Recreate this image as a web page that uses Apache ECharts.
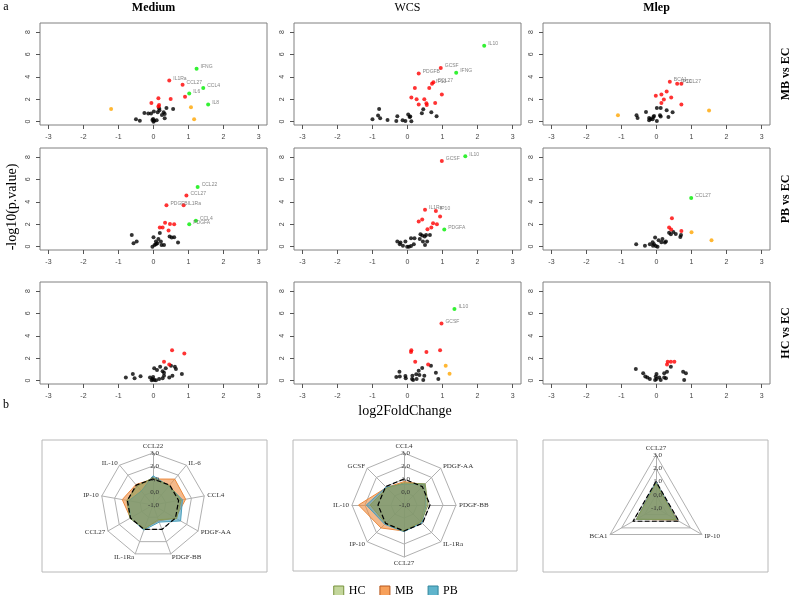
<!DOCTYPE html>
<html><head><meta charset="utf-8">
<script src="https://cdn.jsdelivr.net/npm/echarts@6/dist/echarts.min.js"></script>
<style>html,body{margin:0;padding:0;background:#fff}#c{width:791px;height:595px}</style>
</head><body><div id="c"></div>
<script>
// ---------- tick labels / categories ----------
const xTicks = [-3, -2, -1, 0, 1, 2, 3];
const yTicks = [0, 2, 4, 6, 8];
const columns = ['Medium', 'WCS', 'Mlep'];
const rows = ['MB vs EC', 'PB vs EC', 'HC vs EC'];

// ---------- volcano data: [log2FC, -log10(p), label] ----------
// Medium / MB vs EC
const medMB_green = [[1.23,4.72,'IFNG'],[1.42,3.01,'CCL4'],[1.02,2.51,'IL6'],[1.56,1.52,'IL8']];
const medMB_red = [[0.45,3.67,'IL1Ra'],[0.83,3.28,'CCL27'],[0.9,2.21],[0.14,2.09],[0.49,2.03],[-0.06,1.67],[0.16,1.49],[0.14,1.34]];
const medMB_orange = [[-1.21,1.13],[1.07,1.28],[1.16,0.21]];
const medMB_black = [[0.37,1.22],[0.56,1.13],[0.16,1.19],[0.01,0.9],[0.12,0.84],[-0.26,0.78],[-0.15,0.72],[-0.07,0.72],[0.29,0.84],[0.32,0.69],[0.24,0.6],[0.32,0.3],[-0.5,0.21],[-0.39,0.09],[-0.01,0.24],[0.02,0.09],[0.09,0.12],[0,0],[-0.03,0.15],[0.17,1.01]];
// WCS / MB vs EC
const wcsMB_green = [[2.19,6.78,'IL10'],[1.39,4.36,'IFNG']];
const wcsMB_red = [[0.95,4.78,'GCSF'],[0.32,4.3,'PDGFB'],[0.74,3.52,'CCL27'],[0.7,3.37,'IP10'],[0.21,2.99],[0.62,2.99],[0.98,2.42],[0.11,2.15],[0.26,2.0],[0.48,2.0],[0.54,1.64],[0.55,1.49],[0.32,1.52],[0.79,1.67]];
const wcsMB_orange = [];
const wcsMB_black = [[-0.81,1.13],[-0.84,0.54],[-0.78,0.3],[-1.0,0.21],[-0.57,0.15],[-0.29,0.48],[-0.32,0.06],[-0.14,0.12],[-0.06,0.06],[0.02,0.63],[0.08,0.45],[0.11,0.03],[0.41,0.75],[0.45,1.1],[0.68,0.84],[0.83,0.48],[0.06,0.42]];
// Mlep / MB vs EC
const mlepMB_green = [];
const mlepMB_red = [[0.38,3.55,'BCA1'],[0.59,3.37,'IP10'],[0.71,3.37,'CCL27'],[0.29,2.69],[-0.02,2.3],[0.14,2.42],[0.42,2.15],[0.21,1.97],[0.14,1.67],[0.71,1.52]];
const mlepMB_orange = [[-1.1,0.57],[1.5,0.99]];
const mlepMB_black = [[0.01,1.22],[0.12,1.22],[-0.3,0.87],[0.29,1.01],[0.46,0.84],[-0.57,0.57],[-0.54,0.33],[-0.21,0.33],[-0.17,0.24],[-0.21,0.12],[-0.09,0.42],[-0.07,0.51],[0.1,0.57],[0.12,0.45],[0.01,0.06],[0.34,0.42],[-0.11,0.21]];
// Medium / PB vs EC
const medPB_green = [[1.26,5.31,'CCL22'],[1.21,2.3,'CCL4'],[1.02,2.0,'PDGFA']];
const medPB_red = [[0.94,4.57,'CCL27'],[0.37,3.7,'PDGFB'],[0.86,3.7,'IL1Ra'],[0.33,2.12],[0.47,2.03],[0.59,2.0],[0.18,1.7],[0.26,1.7],[0.43,1.43]];
const medPB_orange = [];
const medPB_black = [[-0.62,1.04],[-0.48,0.45],[-0.57,0.3],[0.18,1.22],[0,0.84],[0.46,0.9],[0.59,0.84],[0.52,0.81],[0.14,0.69],[0.21,0.45],[0.07,0.45],[0.11,0.3],[0.03,0.15],[-0.03,0],[0.23,0.15],[0.3,0.15],[0.7,0.36],[0.07,0.21]];
// WCS / PB vs EC
const wcsPB_green = [[1.65,8.06,'IL10'],[1.05,1.52,'PDGFA']];
const wcsPB_red = [[0.98,7.64,'GCSF'],[0.5,3.28,'IL1Ra'],[0.81,3.19,'IP10'],[0.93,2.68],[0.42,2.42],[0.32,2.24],[0.84,2.0],[0.73,2.09],[0.68,1.7],[0.57,1.55]];
const wcsPB_orange = [];
const wcsPB_black = [[0.37,1.1],[0.42,0.99],[0.49,0.9],[0.64,1.04],[0.53,1.04],[0.35,0.69],[0.44,0.45],[0.56,0.45],[0.5,0.15],[0.1,0.75],[0.2,0.75],[-0.06,0.45],[0.18,0.21],[-0.29,0.45],[-0.22,0.21],[-0.13,0.09],[-0.01,0],[0.04,0],[0.1,0.06],[-0.2,0.36]];
// Mlep / PB vs EC
const mlepPB_green = [[0.99,4.33,'CCL27']];
const mlepPB_red = [[0.44,2.54],[0.36,1.7],[0.42,1.52],[0.71,1.4]];
const mlepPB_orange = [[1.0,1.28],[1.57,0.57]];
const mlepPB_black = [[0.36,1.25],[0.48,1.31],[0.55,1.13],[0.7,1.04],[0.68,0.87],[0.41,1.1],[-0.04,0.81],[0.06,0.57],[0.17,0.69],[0.14,0.39],[0.24,0.36],[0.27,0.45],[-0.11,0.39],[-0.07,0.21],[-0.19,0.21],[-0.02,0.06],[0.03,0],[-0.58,0.21],[-0.33,0.09],[-0.1,0.09]];
// Medium / HC vs EC
const medHC_green = [];
const medHC_red = [[0.53,2.7],[0.88,2.43],[0.3,1.69],[0.45,1.45]];
const medHC_orange = [];
const medHC_black = [[0.19,1.24],[0.35,1.1],[0.5,1.33],[0.61,1.24],[0.64,1.04],[0.02,1.1],[0.1,0.95],[0.26,0.83],[0.3,0.71],[0.54,0.44],[0.81,0.59],[0.3,0.44],[0.26,0.21],[0.16,0.15],[0.45,0.27],[-0.59,0.59],[-0.79,0.27],[-0.54,0.21],[-0.37,0.39],[-0.1,0.27],[-0.03,0.15],[0.02,0.06],[0.07,0.03],[-0.05,0.03],[-0.01,0.33]];
// WCS / HC vs EC
const wcsHC_green = [[1.34,6.4,'IL10']];
const wcsHC_red = [[0.97,5.1,'GCSF'],[0.11,2.7],[0.1,2.55],[0.54,2.55],[0.93,2.7],[0.22,1.69],[0.59,1.45]];
const wcsHC_orange = [[1.09,1.33],[1.2,0.62]];
const wcsHC_black = [[0.67,1.33],[0.42,1.13],[0.32,0.89],[0.81,0.71],[-0.23,0.8],[-0.32,0.33],[-0.22,0.36],[-0.06,0.41],[-0.05,0.21],[0.14,0.44],[0.25,0.56],[0.34,0.5],[0.48,0.44],[0.13,0.15],[0.16,0.06],[0.26,0.15],[0.45,0.06],[0.88,0.15]];
// Mlep / HC vs EC
const mlepHC_green = [];
const mlepHC_red = [[0.32,1.69],[0.41,1.69],[0.51,1.69],[0.3,1.45]];
const mlepHC_orange = [];
const mlepHC_black = [[0.41,1.24],[0.3,0.8],[0.22,0.65],[-0.59,1.04],[-0.38,0.65],[-0.32,0.36],[-0.26,0.27],[-0.19,0.15],[0,0.59],[-0.02,0.36],[0.08,0.27],[0,0.15],[0.12,0.06],[-0.04,0.06],[0.22,0.27],[0.27,0.21],[0.76,0.8],[0.84,0.65],[0.79,0.06]];

// ---------- radar data (clockwise from top) ----------
const radarMediumAxes = ['CCL22','IL-6','CCL4','PDGF-AA','PDGF-BB','IL-1Ra','CCL27','IP-10','IL-10'];
const radarMediumMB = [1.0,1.6,1.55,1.0,0.3,0.9,1.0,1.4,1.05];
const radarMediumPB = [1.25,0.9,1.3,1.45,0.4,1.05,1.0,0.9,0.4];
const radarMediumHC = [1.1,0.95,1.2,1.1,0.2,0.95,1.05,1.05,0.9];
const radarMediumEC = [1,1,1,1,1,1,1,1,1];
const radarWcsAxes = ['CCL4','PDGF-AA','PDGF-BB','IL-1Ra','CCL27','IP-10','IL-10','GCSF'];
const radarWcsMB = [0.8,1.2,0.6,0.8,1.0,1.5,2.5,0.9];
const radarWcsPB = [0.6,1.25,0.7,0.95,1.05,1.1,1.9,0.95];
const radarWcsHC = [0.7,1.3,0.85,0.85,1.0,1.0,1.6,0.85];
const radarWcsEC = [1,1,1,1,1,1,1,1];
const radarMlepAxes = ['CCL27','IP-10','BCA1'];
const radarMlepMB = [0.9,0.85,0.7];
const radarMlepPB = [0.95,0.8,0.7];
const radarMlepHC = [0.85,0.75,0.7];
const radarMlepEC = [1,1,1];

// ---------- build ----------
const panels = [
  [medMB_black, medMB_red, medMB_green, medMB_orange],
  [wcsMB_black, wcsMB_red, wcsMB_green, wcsMB_orange],
  [mlepMB_black, mlepMB_red, mlepMB_green, mlepMB_orange],
  [medPB_black, medPB_red, medPB_green, medPB_orange],
  [wcsPB_black, wcsPB_red, wcsPB_green, wcsPB_orange],
  [mlepPB_black, mlepPB_red, mlepPB_green, mlepPB_orange],
  [medHC_black, medHC_red, medHC_green, medHC_orange],
  [wcsHC_black, wcsHC_red, wcsHC_green, wcsHC_orange],
  [mlepHC_black, mlepHC_red, mlepHC_green, mlepHC_orange]
];
const ptColors = ['#000000', '#ff0000', '#00ee00', '#ffa500'];
const colLeft = [40, 294, 543], rowTop = [23, 148, 282], W = 227, H = 102;
const SANS = '"Liberation Sans", Arial, sans-serif';
const SERIF = '"Liberation Serif", "Times New Roman", serif';

const grid = [], xAxis = [], yAxis = [], series = [];
panels.forEach((p, i) => {
  const r = Math.floor(i / 3), c = i % 3;
  grid.push({left: colLeft[c], top: rowTop[r], width: W, height: H, show: true,
    borderColor: '#808080', borderWidth: 1});
  xAxis.push({gridIndex: i, type: 'value', min: -3.24, max: 3.24, position: 'bottom',
    axisLine: {show: false, onZero: false}, splitLine: {show: false},
    axisTick: {show: true, length: 4, customValues: xTicks, lineStyle: {color: '#555'}},
    axisLabel: {customValues: xTicks, margin: 9, fontSize: 7, color: '#444', fontFamily: SANS}});
  yAxis.push({gridIndex: i, type: 'value', min: -0.3, max: 8.8, position: 'left',
    axisLine: {show: false, onZero: false}, splitLine: {show: false},
    axisTick: {show: true, length: 4, customValues: yTicks, lineStyle: {color: '#555'}},
    axisLabel: {customValues: yTicks, margin: 8, rotate: 90, fontSize: 7, color: '#444', fontFamily: SANS}});
  p.forEach((arr, k) => {
    series.push({type: 'scatter', xAxisIndex: i, yAxisIndex: i, symbolSize: 4, z: 3 + k,
      itemStyle: {color: ptColors[k]}, silent: true,
      data: arr.map(d => d[2] ? {value: [d[0], d[1]], name: d[2], label: {show: true}} : [d[0], d[1]]),
      label: {show: false, formatter: '{b}', position: 'right', distance: 2, offset: [0, -2],
        fontSize: 5, color: '#666', fontFamily: SANS}});
  });
});

const radarSets = [
  {axes: radarMediumAxes, MB: radarMediumMB, PB: radarMediumPB, HC: radarMediumHC, EC: radarMediumEC, center: [153, 505], radius: 52},
  {axes: radarWcsAxes, MB: radarWcsMB, PB: radarWcsPB, HC: radarWcsHC, EC: radarWcsEC, center: [404, 505], radius: 52},
  {axes: radarMlepAxes, MB: radarMlepMB, PB: radarMlepPB, HC: radarMlepHC, EC: radarMlepEC, center: [656, 508], radius: 53}
];
// ECharts places indicators counter-clockwise; reorder to get clockwise
const cw = a => [a[0]].concat(a.slice(1).reverse());
const groupColors = {HC: '#8a9a55', MB: '#ec8a3e', PB: '#4a9fbd'};
const radar = [], polar = [], angleAxis = [], radiusAxis = [];
radarSets.forEach((s, i) => {
  radar.push({center: s.center, radius: s.radius, startAngle: 90, shape: 'polygon', splitNumber: 4,
    indicator: cw(s.axes).map(n => ({name: n, min: -1, max: 3})),
    nameGap: 3,
    axisName: {color: '#333', fontSize: 7, fontFamily: SERIF},
    splitLine: {lineStyle: {color: '#b0b0b0', width: 1}},
    splitArea: {show: false},
    axisLine: {lineStyle: {color: '#b0b0b0'}},
    axisTick: {show: false}, axisLabel: {show: false}});
  polar.push({center: s.center, radius: s.radius});
  angleAxis.push({polarIndex: i, startAngle: 90, min: 0, max: 360, show: false});
  radiusAxis.push({polarIndex: i, min: -1, max: 3, interval: 1, z: 20,
    axisLine: {show: false}, axisTick: {show: false}, splitLine: {show: false},
    axisLabel: {fontSize: 7, color: '#333', fontFamily: SERIF, margin: -6,
      formatter: v => v.toFixed(1).replace('.', ',')}});
  ['MB', 'PB', 'HC'].forEach(g => {
    series.push({type: 'radar', radarIndex: i, name: g, symbol: 'none', silent: true,
      data: [{name: g, value: cw(s[g]),
        lineStyle: {color: groupColors[g], width: 1},
        areaStyle: {color: groupColors[g], opacity: 0.6},
        itemStyle: {color: groupColors[g]}}]});
  });
  series.push({type: 'radar', radarIndex: i, name: 'EC', symbol: 'none', silent: true, z: 10,
    data: [{name: 'EC', value: cw(s.EC), lineStyle: {color: '#000', width: 1.2, type: 'dashed'}, itemStyle: {color: '#000'}}]});
});

const graphic = [
  {type: 'text', x: 6, y: 7, style: {text: 'a', font: '12px ' + SERIF, fill: '#000', textAlign: 'center', verticalAlign: 'middle'}},
  {type: 'text', x: 6, y: 405, style: {text: 'b', font: '12px ' + SERIF, fill: '#000', textAlign: 'center', verticalAlign: 'middle'}},
  {type: 'text', x: 12, y: 207, rotation: Math.PI / 2, style: {text: '-log10(p.value)', font: '14px ' + SERIF, fill: '#000', textAlign: 'center', verticalAlign: 'middle'}},
  {type: 'text', x: 405, y: 411, style: {text: 'log2FoldChange', font: '14px ' + SERIF, fill: '#000', textAlign: 'center', verticalAlign: 'middle'}},
  {type: 'rect', shape: {x: 42, y: 440, width: 225, height: 132}, style: {fill: 'none', stroke: '#b8b8b8', lineWidth: 1}},
  {type: 'rect', shape: {x: 293, y: 440, width: 224, height: 131}, style: {fill: 'none', stroke: '#b8b8b8', lineWidth: 1}},
  {type: 'rect', shape: {x: 543, y: 440, width: 225, height: 132}, style: {fill: 'none', stroke: '#b8b8b8', lineWidth: 1}}
];
columns.forEach((t, c) => {
  graphic.push({type: 'text', x: colLeft[c] + W / 2, y: 8,
    style: {text: t, font: (t === 'WCS' ? '' : 'bold ') + '12px ' + SERIF, fill: '#000', textAlign: 'center', verticalAlign: 'middle'}});
});
rows.forEach((t, r) => {
  graphic.push({type: 'text', x: 786, y: rowTop[r] + H / 2, rotation: Math.PI / 2,
    style: {text: t, font: 'bold 12px ' + SERIF, fill: '#000', textAlign: 'center', verticalAlign: 'middle'}});
});

const chart = echarts.init(document.getElementById('c'), null, {renderer: 'canvas'});
chart.setOption({
  animation: false,
  backgroundColor: '#fff',
  grid, xAxis, yAxis, radar, polar, angleAxis, radiusAxis, series, graphic,
  legend: {top: 580, left: 'center', itemWidth: 10, itemHeight: 10, itemGap: 14, icon: 'rect',
    textStyle: {fontSize: 12, fontFamily: SERIF, color: '#000'},
    data: [
      {name: 'HC', itemStyle: {color: '#c3d69b', borderColor: '#76923c', borderWidth: 1}},
      {name: 'MB', itemStyle: {color: '#f7a05a', borderColor: '#b7561d', borderWidth: 1}},
      {name: 'PB', itemStyle: {color: '#5fb4cc', borderColor: '#31859c', borderWidth: 1}}
    ]}
});
</script></body></html>
